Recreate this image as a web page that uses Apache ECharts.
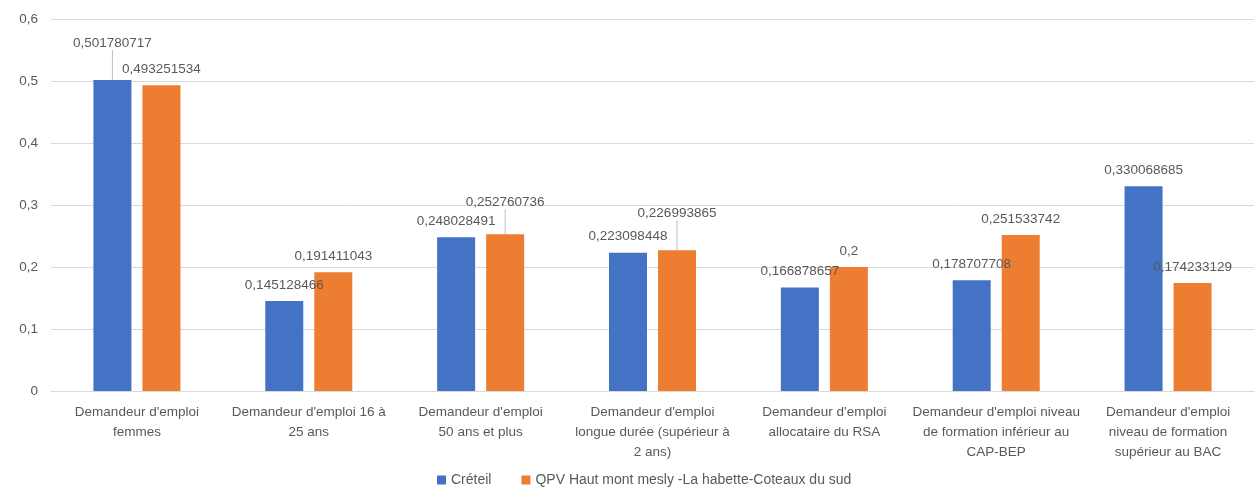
<!DOCTYPE html>
<html>
<head>
<meta charset="utf-8">
<script src="https://cdn.jsdelivr.net/npm/echarts@6/dist/echarts.min.js"></script>
<style>
  html, body { margin: 0; padding: 0; background: #fff; }
  #chart { width: 1258px; height: 501px; }
</style>
</head>
<body>
<div id="chart"></div>
<script>
// Catégories de demandeurs d'emploi
const categories = [
  "Demandeur d'emploi\nfemmes",
  "Demandeur d'emploi 16 à\n25 ans",
  "Demandeur d'emploi\n50 ans et plus",
  "Demandeur d'emploi\nlongue durée (supérieur à\n2 ans)",
  "Demandeur d'emploi\nallocataire du RSA",
  "Demandeur d'emploi niveau\nde formation inférieur au\nCAP-BEP",
  "Demandeur d'emploi\nniveau de formation\nsupérieur au BAC"
];
const seriesNames = ["Créteil", "QPV Haut mont mesly -La habette-Coteaux du sud"];
const creteil = [0.501780717, 0.145128466, 0.248028491, 0.223098448, 0.166878657, 0.178707708, 0.330068685];
const qpv = [0.493251534, 0.191411043, 0.252760736, 0.226993865, 0.2, 0.251533742, 0.174233129];
const yTicks = [0, 0.1, 0.2, 0.3, 0.4, 0.5, 0.6];

// Étiquettes décalées vers le haut (reliées à la barre par un trait)
const shiftedLabels = [
  { series: 0, index: 0, dy: -21 },
  { series: 1, index: 2, dy: -16 },
  { series: 1, index: 3, dy: -21 }
];

const FONT = "'Liberation Sans', Arial, sans-serif";
const TEXT = '#595959';
const fmt = v => String(v).replace('.', ',');

function findShift(seriesIndex, dataIndex) {
  return shiftedLabels.find(l => l.series === seriesIndex && l.index === dataIndex);
}

function barSeries(name, values, color, idx) {
  return {
    name: name,
    type: 'bar',
    data: values.map((v, i) => ({
      value: v,
      labelLine: { show: !!findShift(idx, i), lineStyle: { color: '#bfbfbf', width: 1 } }
    })),
    barWidth: 38,
    barGap: '29%',
    itemStyle: { color: color },
    label: {
      show: true,
      position: 'top',
      distance: 9,
      color: TEXT,
      fontFamily: FONT,
      fontSize: 13.5,
      formatter: p => fmt(p.value)
    },
    labelLine: { show: false },
    labelLayout: function (params) {
      const s = findShift(idx, params.dataIndex);
      return s ? { dy: s.dy } : {};
    }
  };
}

const chart = echarts.init(document.getElementById('chart'));
chart.setOption({
  animation: false,
  backgroundColor: '#ffffff',
  textStyle: { fontFamily: FONT, color: TEXT },
  grid: { left: 51, right: 4, top: 19, bottom: 110, containLabel: false },
  legend: {
    bottom: 9,
    left: 432,
    itemWidth: 9,
    itemHeight: 9,
    itemGap: 30,
    icon: 'rect',
    textStyle: { color: TEXT, fontFamily: FONT, fontSize: 14 },
    data: seriesNames
  },
  xAxis: {
    type: 'category',
    data: categories,
    axisLine: { lineStyle: { color: '#d9d9d9' } },
    axisTick: { show: false },
    axisLabel: {
      color: TEXT,
      fontFamily: FONT,
      fontSize: 13.5,
      lineHeight: 20,
      margin: 11,
      interval: 0,
      align: 'center'
    }
  },
  yAxis: {
    type: 'value',
    min: yTicks[0],
    max: yTicks[yTicks.length - 1],
    interval: 0.1,
    axisLine: { show: false },
    axisTick: { show: false },
    splitLine: { lineStyle: { color: '#d9d9d9' } },
    axisLabel: {
      color: TEXT,
      fontFamily: FONT,
      fontSize: 13.5,
      margin: 13,
      formatter: v => fmt(Math.round(v * 10) / 10)
    }
  },
  series: [
    barSeries(seriesNames[0], creteil, '#4472C4', 0),
    barSeries(seriesNames[1], qpv, '#ED7D31', 1)
  ]
});
</script>
</body>
</html>
